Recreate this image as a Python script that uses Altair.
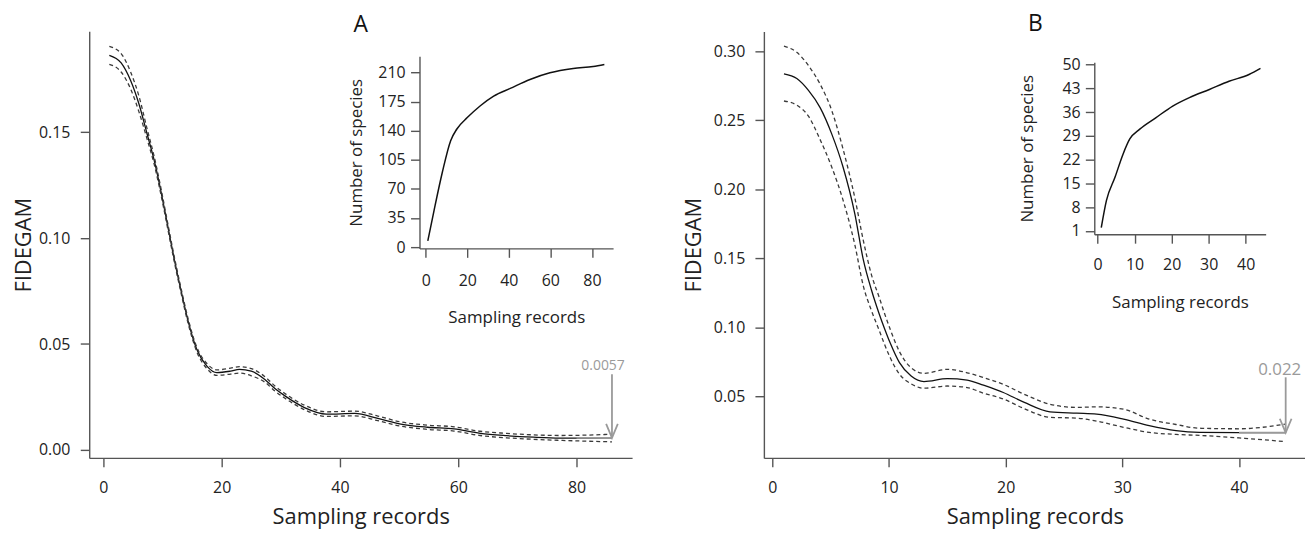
import altair as alt
import pandas as pd

FONT = "Open Sans"
AXC = "#555555"
TXT = "#222222"
GRAY = "#9a9a9a"

# ---------------- Panel A (main) ----------------
a_x = [1, 3, 4.6, 6, 7.4, 8.6, 9.7, 10.8, 11.9, 13.1, 14.4, 15.8, 17.5, 19.2, 21.5, 23, 25,
       27.3, 29, 30.7, 34, 37.7, 42.5, 46.4, 50.3, 54.8, 59.3, 63.7, 68.2, 72.7, 77.2, 82, 86]
a_fit = [0.1864, 0.1828, 0.1745, 0.1635, 0.1491, 0.1366, 0.1225, 0.1069, 0.0912, 0.0756, 0.0600,
         0.0474, 0.0396, 0.0365, 0.0372, 0.0380, 0.0372, 0.0333, 0.0290, 0.0255, 0.0200, 0.0169,
         0.0172, 0.0149, 0.0122, 0.0107, 0.0099, 0.0078, 0.0067, 0.0060, 0.0056, 0.0056, 0.0057]
a_up = [0.1906, 0.1872, 0.1785, 0.1672, 0.1515, 0.1384, 0.1240, 0.1082, 0.0924, 0.0767, 0.0611,
        0.0485, 0.0408, 0.0378, 0.0386, 0.0393, 0.0384, 0.0346, 0.0302, 0.0266, 0.0211, 0.0180,
        0.0183, 0.0160, 0.0132, 0.0117, 0.0109, 0.0088, 0.0078, 0.0071, 0.0068, 0.0070, 0.0074]
a_lo = [0.1821, 0.1785, 0.1705, 0.1598, 0.1467, 0.1348, 0.1210, 0.1056, 0.0900, 0.0745, 0.0589,
        0.0463, 0.0384, 0.0352, 0.0358, 0.0363, 0.0350, 0.0320, 0.0278, 0.0244, 0.0190, 0.0158,
        0.0161, 0.0138, 0.0112, 0.0097, 0.0089, 0.0068, 0.0057, 0.0050, 0.0045, 0.0041, 0.0038]
a_end_label = "0.0057"
a_end_value = 0.0057
a_seg_from = 80
a_end_x = 86
a_arrow_top = 0.0357

# ---------------- Panel A (inset) ----------------
ia_x = [1, 4, 8, 12, 15, 20, 26.3, 32.7, 40.7, 50.2, 59.8, 71, 80.6, 86]
ia_y = [7.5, 44, 90, 128, 142, 155.7, 170, 181.6, 190.8, 201.5, 209.5, 214.7, 217, 219.4]

# ---------------- Panel B (main) ----------------
b_x = [1, 2.1, 3.1, 4.1, 5.1, 6.07, 7.07, 7.8, 8.5, 9.15, 9.6, 10.1, 10.9, 11.9, 13.0, 15.0,
       16.7, 18.1, 19.8, 21.6, 23.8, 26.1, 27.8, 30.1, 32.3, 34.6, 36.6, 40.0, 44.0]
b_fit = [0.2837, 0.2803, 0.2717, 0.2592, 0.2400, 0.2160, 0.1824, 0.1490, 0.1270, 0.1100, 0.0995,
         0.0887, 0.0743, 0.0646, 0.0606, 0.0627, 0.0617, 0.0580, 0.0527, 0.0455, 0.0387, 0.0377,
         0.0370, 0.0334, 0.0286, 0.0250, 0.0238, 0.0236, 0.0236]
b_up = [0.3037, 0.2993, 0.2897, 0.2762, 0.2570, 0.2290, 0.1940, 0.1630, 0.1380, 0.1220, 0.1105,
        0.0987, 0.0823, 0.0706, 0.0666, 0.0695, 0.0670, 0.0635, 0.0586, 0.0514, 0.0442, 0.0419,
        0.0423, 0.0406, 0.0334, 0.0295, 0.0268, 0.0264, 0.0298]
b_lo = [0.2640, 0.2610, 0.2530, 0.2360, 0.2160, 0.1920, 0.1600, 0.1300, 0.1120, 0.0980, 0.0880,
        0.0780, 0.0660, 0.0590, 0.0558, 0.0574, 0.0563, 0.0522, 0.0480, 0.0410, 0.0347, 0.0341,
        0.0320, 0.0275, 0.0238, 0.0223, 0.0216, 0.0198, 0.0171]
b_end_label = "0.022"
b_end_value = 0.0236
b_seg_from = 40
b_end_x = 44
b_arrow_top = 0.0637

# ---------------- Panel B (inset) ----------------
ib_x = [1, 2.4, 4.7, 6.9, 8.7, 11.4, 15.8, 20.3, 24.8, 30.2, 35.5, 40.9, 44]
ib_y = [2.0, 10, 16.8, 23.7, 28.1, 31, 34.4, 37.8, 40.3, 42.7, 45.1, 47.1, 48.9]

W, H = 1305, 523


def xr(dom, px0, ppu):
    return [px0 + d * ppu for d in dom]


def yr(dom, px0, ppu, ref=0.0):
    return [px0 - (d - ref) * ppu for d in dom]


def scale(dom, rng):
    return alt.Scale(domain=dom, range=rng, zero=False, nice=False)


def axis(orient, offset, values, fmt, lsize, lpad, title, tsize, tx, ty):
    kw = dict(orient=orient, offset=offset, values=values, format=fmt, grid=False,
              domainColor=AXC, tickColor=AXC, domainWidth=1.4, tickWidth=1.4, tickSize=9,
              labelFont=FONT, labelFontSize=lsize, labelColor=TXT, labelPadding=lpad,
              labelFlush=False, labelOverlap=False,
              title=title, titleFont=FONT, titleFontSize=tsize, titleFontWeight="normal",
              titleColor=TXT, titleX=tx, titleY=ty, titleBaseline="alphabetic",
              titleAlign="center")
    if orient == "left":
        kw["titleAngle"] = 270
    return alt.Axis(**kw)


def curve_layers(xs, ys, x_list, series, xaxis, yaxis):
    layers = []
    for vals, style in series:
        df = pd.DataFrame({"x": x_list, "y": vals})
        layers.append(
            alt.Chart(df).mark_line(interpolate="monotone", **style).encode(
                x=alt.X("x:Q", scale=xs, axis=xaxis),
                y=alt.Y("y:Q", scale=ys, axis=yaxis),
            )
        )
    return layers


def end_marker(xs, ys, xaxis, yaxis, seg_from, end_x, end_val, top, label, fsize, dx, dy):
    seg = pd.DataFrame({"x": [seg_from], "x2": [end_x], "y": [end_val]})
    arr = pd.DataFrame({"x": [end_x], "y": [top], "y2": [end_val], "t": [label]})
    head = pd.DataFrame({"x": [end_x], "y": [end_val]})
    X = lambda: alt.X("x:Q", scale=xs, axis=xaxis)
    Y = lambda: alt.Y("y:Q", scale=ys, axis=yaxis)
    l1 = alt.Chart(seg).mark_rule(color=GRAY, strokeWidth=1.8).encode(x=X(), x2="x2:Q", y=Y())
    l2 = alt.Chart(arr).mark_rule(color=GRAY, strokeWidth=1.8).encode(x=X(), y=Y(), y2="y2:Q")
    l3 = alt.Chart(head).mark_point(shape="M-0.42,-1L0,0L0.42,-1", size=784, filled=False,
                                    stroke=GRAY, strokeWidth=1.8, opacity=1).encode(x=X(), y=Y())
    l4 = alt.Chart(arr).mark_text(font=FONT, fontSize=fsize, color=GRAY, align="center",
                                  baseline="alphabetic", dx=dx, dy=dy).encode(
        x=X(), y=Y(), text="t:N")
    return [l1, l2, l3, l4]


def letter(t, px, py):
    return alt.Chart(pd.DataFrame({"t": [t]})).mark_text(
        font=FONT, fontSize=23, color="#111111", align="center", baseline="alphabetic"
    ).encode(x=alt.value(px), y=alt.value(py), text="t:N")


solid = dict(color="#111111", strokeWidth=1.3)
dashed = dict(color="#3a3a3a", strokeWidth=1.3, strokeDash=[4, 3])

MAIN_LAB, MAIN_TIT = 16, 22
INS_LAB, INS_TIT = 16, 17

# ---- A main
a_xd, a_yd = [-2.4, 89.4], [-0.0038, 0.1977]
a_xr, a_yr = xr(a_xd, 96, 5.95), yr(a_yd, 443, 2130)
a_xs, a_ys = scale(a_xd, a_xr), scale(a_yd, a_yr)
a_xaxis = axis("bottom", a_yr[0] - H, [0, 20, 40, 60, 80], "d", MAIN_LAB, 13,
               "Sampling records", MAIN_TIT, (a_xr[0] + a_xr[1]) / 2, 66)
a_yaxis = axis("left", -a_xr[0], [0, 0.05, 0.10, 0.15], ".2f", MAIN_LAB, 10.5,
               "FIDEGAM", MAIN_TIT, 23 - a_xr[0], (a_yr[0] + a_yr[1]) / 2)
panel_a = alt.layer(
    *curve_layers(a_xs, a_ys, a_x, [(a_fit, solid), (a_up, dashed), (a_lo, dashed)],
                  a_xaxis, a_yaxis),
    *end_marker(a_xs, a_ys, a_xaxis, a_yaxis, a_seg_from, a_end_x, a_end_value, a_arrow_top,
                a_end_label, 14, -9, -4),
    letter("A", 355, 22.5),
)

# ---- A inset
ia_xd, ia_yd = [-3, 90.2], [-1.5, 229.4]
ia_xr, ia_yr = xr(ia_xd, 420.3, 2.09), yr(ia_yd, 239, 0.8371)
ia_xs, ia_ys = scale(ia_xd, ia_xr), scale(ia_yd, ia_yr)
ia_xaxis = axis("bottom", ia_yr[0] - H, [0, 20, 40, 60, 80], "d", INS_LAB, 15,
                "Sampling records", INS_TIT, (ia_xr[0] + ia_xr[1]) / 2, 74.5)
ia_yaxis = axis("left", -ia_xr[0], [0, 35, 70, 105, 140, 175, 210], "d", INS_LAB, 5.5,
                "Number of species", INS_TIT, 355.6 - ia_xr[0], (ia_yr[0] + ia_yr[1]) / 2)
inset_a = alt.layer(*curve_layers(ia_xs, ia_ys, ia_x,
                                  [(ia_y, dict(color="#111111", strokeWidth=1.5))],
                                  ia_xaxis, ia_yaxis))

# ---- B main
b_xd, b_yd = [-0.72, 45.72], [0.0053, 0.3144]
b_xr, b_yr = xr(b_xd, 769, 11.74), yr(b_yd, 458.4, 1388)
b_xs, b_ys = scale(b_xd, b_xr), scale(b_yd, b_yr)
b_xaxis = axis("bottom", b_yr[0] - H, [0, 10, 20, 30, 40], "d", MAIN_LAB, 13,
               "Sampling records", MAIN_TIT, (b_xr[0] + b_xr[1]) / 2, 66)
b_yaxis = axis("left", -b_xr[0], [0.05, 0.10, 0.15, 0.20, 0.25, 0.30], ".2f", MAIN_LAB, 10.2,
               "FIDEGAM", MAIN_TIT, 697.2 - b_xr[0], (b_yr[0] + b_yr[1]) / 2)
panel_b = alt.layer(
    *curve_layers(b_xs, b_ys, b_x, [(b_fit, solid), (b_up, dashed), (b_lo, dashed)],
                  b_xaxis, b_yaxis),
    *end_marker(b_xs, b_ys, b_xaxis, b_yaxis, b_seg_from, b_end_x, b_end_value, b_arrow_top,
                b_end_label, 17, -6, -2),
    letter("B", 1033.7, 22),
)

# ---- B inset
ib_xd, ib_yd = [-0.89, 45.4], [0.03, 50.7]
ib_xr, ib_yr = xr(ib_xd, 1096.3, 3.725), yr(ib_yd, 222.7, 3.414, ref=1.0)
ib_xs, ib_ys = scale(ib_xd, ib_xr), scale(ib_yd, ib_yr)
ib_xaxis = axis("bottom", ib_yr[0] - H, [0, 10, 20, 30, 40], "d", INS_LAB, 13,
                "Sampling records", INS_TIT, (ib_xr[0] + ib_xr[1]) / 2, 73.8)
ib_yaxis = axis("left", -ib_xr[0], [1, 8, 15, 22, 29, 36, 43, 50], "d", INS_LAB, 5.3,
                "Number of species", INS_TIT, 1031 - ib_xr[0], (ib_yr[0] + ib_yr[1]) / 2)
inset_b = alt.layer(*curve_layers(ib_xs, ib_ys, ib_x,
                                  [(ib_y, dict(color="#111111", strokeWidth=1.5))],
                                  ib_xaxis, ib_yaxis))

chart = (
    alt.layer(panel_a, inset_a, panel_b, inset_b)
    .resolve_scale(x="independent", y="independent")
    .properties(width=W, height=H, autosize=alt.AutoSizeParams(type="none"), padding=0,
                background="white")
    .configure_view(stroke=None)
)

chart.save("out.html", embed_options={"renderer": "svg", "actions": False})
